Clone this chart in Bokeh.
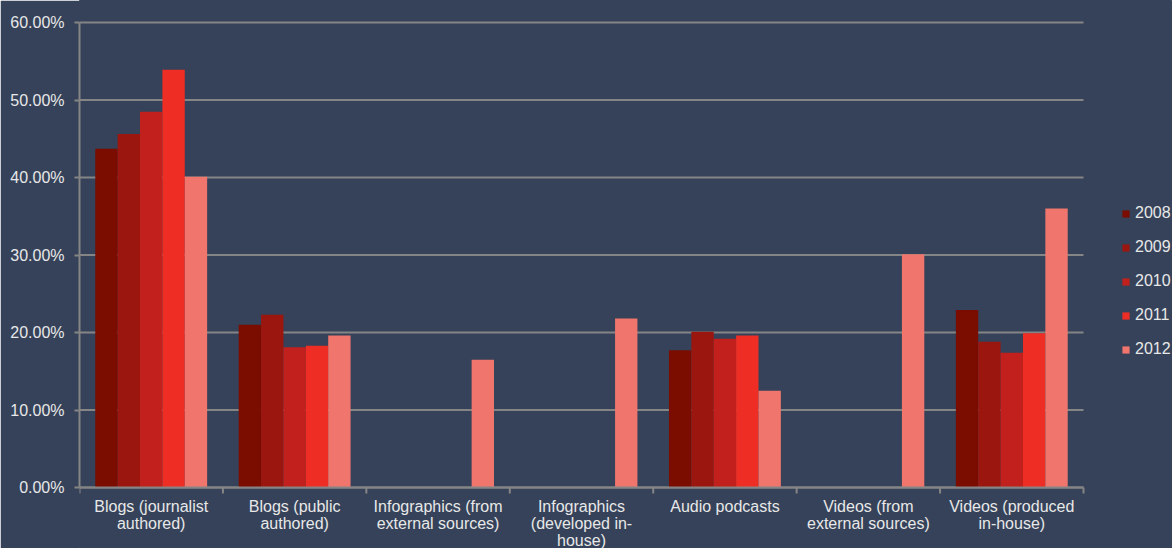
import numpy as np
from bokeh.plotting import figure
from bokeh.models import (ColumnDataSource, FixedTicker, Legend, LegendItem,
                          Range1d)
from bokeh.core.properties import value
from bokeh.transform import dodge
from bokeh.embed import file_html
from bokeh.resources import INLINE

categories = [
    "Blogs (journalist\nauthored)",
    "Blogs (public\nauthored)",
    "Infographics (from\nexternal sources)",
    "Infographics\n(developed in-\nhouse)",
    "Audio podcasts",
    "Videos (from\nexternal sources)",
    "Videos (produced\nin-house)",
]
years = ["2008", "2009", "2010", "2011", "2012"]
nan = float("nan")
v2008 = [43.7, 21.0, nan, nan, 17.7, nan, 22.9]
v2009 = [45.6, 22.3, nan, nan, 20.1, nan, 18.8]
v2010 = [48.5, 18.1, nan, nan, 19.2, nan, 17.4]
v2011 = [53.9, 18.3, nan, nan, 19.6, nan, 19.9]
v2012 = [40.1, 19.6, 16.5, 21.8, 12.5, 30.1, 36.0]
colors = ["#7A0C00", "#9C1610", "#C2201C", "#EE2D25", "#F0756D"]
yticks = [0, 10, 20, 30, 40, 50, 60]
ytick_labels = [f"{t:.2f}%" for t in yticks]

BG = "#354259"
GRID = "#858585"
TXT = "#E8E8E8"
FONT = "Liberation Sans"
FS = "16px"

ncat = len(categories)
xc = [i + 0.5 for i in range(ncat)]
bounds = list(range(ncat + 1))

# pixel geometry of the plot area inside the 1172x548 canvas
LEFT, RIGHT_EDGE, TOP_Y, ZERO_Y, H = 79, 1083, 22, 487, 548
px_per_x = (RIGHT_EDGE - LEFT) / ncat
px_per_y = (ZERO_Y - TOP_Y) / yticks[-1]
x_end = (1172 - LEFT) / px_per_x
y_start = -(H - ZERO_Y) / px_per_y
y_end = yticks[-1] + TOP_Y / px_per_y

source = ColumnDataSource(dict(x=xc, y2008=v2008, y2009=v2009, y2010=v2010,
                               y2011=v2011, y2012=v2012))

p = figure(width=1172, height=548, output_backend="svg",
           toolbar_location=None,
           x_range=Range1d(0, x_end), y_range=Range1d(y_start, y_end),
           min_border_left=LEFT, min_border_right=0, min_border_top=0,
           min_border_bottom=0)
p.background_fill_color = BG
p.border_fill_color = BG
p.outline_line_color = BG
p.outline_line_width = 1
p.grid.visible = False
p.xaxis.visible = False

# horizontal grid lines (0..60%) limited to the category span
p.segment(x0=0, x1=ncat, y0=yticks, y1=yticks, line_color=GRID, line_width=2)

bw = 0.156
items = []
for j, (yr, col) in enumerate(zip(years, colors)):
    r = p.vbar(x=dodge("x", (j - 2) * bw, range=p.x_range), top="y" + yr,
               width=bw, source=source, fill_color=col, line_color=None)
    items.append(LegendItem(label=yr, renderers=[r]))

# x axis line, boundary ticks and category labels
p.segment(x0=0, x1=ncat, y0=0, y1=0, line_color=GRID, line_width=2)
p.ray(x=bounds, y=[0] * len(bounds), length=6, length_units="screen",
      angle=-np.pi / 2, line_color=GRID, line_width=2)
p.text(x=xc, y=[0] * ncat, text=categories, y_offset=10,
       text_align="center", text_baseline="top",
       text_color=TXT, text_font=value(FONT), text_font_size=value(FS),
       text_line_height=1.0)

# y axis
yax = p.yaxis[0]
yax.ticker = FixedTicker(ticks=yticks)
yax.bounds = (yticks[0], yticks[-1])
yax.major_label_overrides = dict(zip(yticks, ytick_labels))
yax.axis_line_color = GRID
yax.axis_line_width = 2
yax.major_tick_line_color = GRID
yax.major_tick_line_width = 2
yax.major_tick_out = 5
yax.major_tick_in = 0
yax.minor_tick_line_color = None
yax.major_label_standoff = 10
yax.major_label_text_color = TXT
yax.major_label_text_font = FONT
yax.major_label_text_font_size = FS

legend = Legend(items=items, location=(1042, 189), orientation="vertical",
                background_fill_alpha=0, border_line_color=None,
                padding=0, margin=0, spacing=14, label_height=20,
                glyph_width=9, glyph_height=9, label_standoff=5,
                label_text_color=TXT, label_text_font=FONT,
                label_text_font_size=FS)
p.add_layout(legend, "center")

open("out.html", "w").write(file_html(p, INLINE))
